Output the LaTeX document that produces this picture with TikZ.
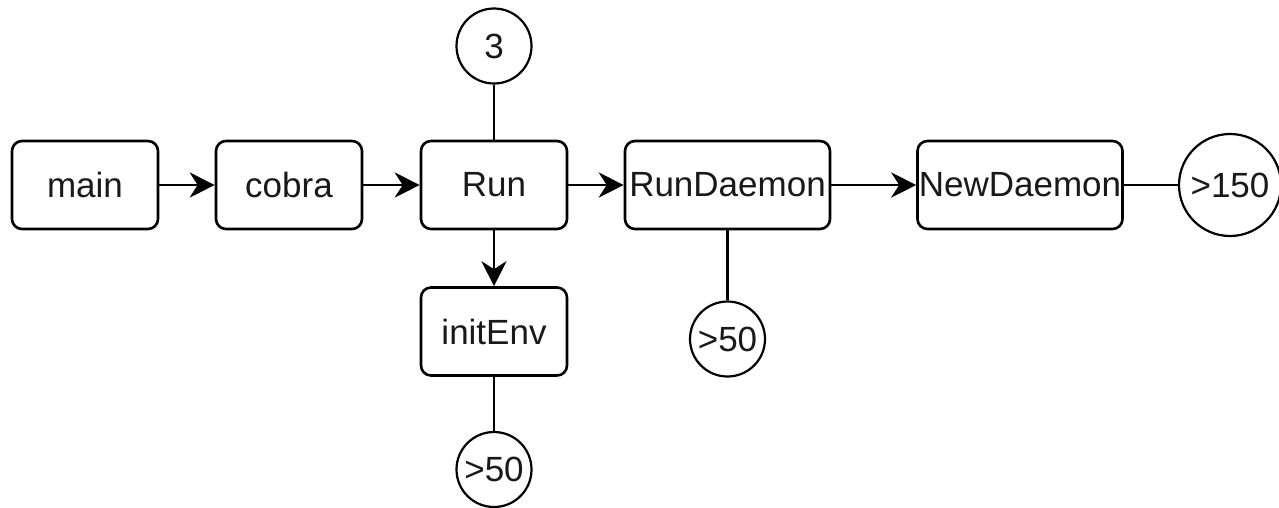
\documentclass[tikz,border=0pt]{standalone}
\usepackage{fontspec}
\setmainfont{Liberation Sans}
\usetikzlibrary{arrows.meta}
\begin{document}
\begin{tikzpicture}[x=1pt,y=-1pt,
  every node/.style={font=\fontsize{35}{40}\selectfont, text=black!90},
  box/.style={draw, line width=2.6pt, rounded corners=10pt, fill=white,
    minimum width=146pt, minimum height=88pt, inner sep=0pt},
  widebox/.style={box, minimum width=205pt},
  count/.style={draw, circle, line width=2.2pt, fill=white, inner sep=0pt, minimum size=75pt},
  link/.style={line width=2.6pt},
  flow/.style={link, -{Stealth[length=25pt, width=25pt, inset=8pt]}}
]
\useasboundingbox (0,0) rectangle (1279,507);

% call chain
\node[box] (main) at (85,185) {main};
\node[box] (cobra) at (289,185) {cobra};
\node[box] (run) at (494,185) {Run};
\node[widebox] (rundaemon) at (727.5,185) {RunDaemon};
\node[widebox] (newdaemon) at (1020,185) {NewDaemon};
\node[box] (initenv) at (494,331.5) {initEnv};

% counts
\node[count] (c3) at (494,46) {3};
\node[count] (c50a) at (727.5,339) {>50};
\node[count] (c50b) at (494,469.5) {>50};
\node[count, minimum size=102pt] (c150) at (1230,185) {>150};

% calls
\draw[flow] (main) -- (cobra);
\draw[flow] (cobra) -- (run);
\draw[flow] (run) -- (rundaemon);
\draw[flow] (rundaemon) -- (newdaemon);
\draw[flow] (run) -- (initenv);

% count links
\draw[link] (c3) -- (run);
\draw[link] (rundaemon) -- (c50a);
\draw[link] (initenv) -- (c50b);
\draw[link] (newdaemon) -- (c150);
\end{tikzpicture}
\end{document}
